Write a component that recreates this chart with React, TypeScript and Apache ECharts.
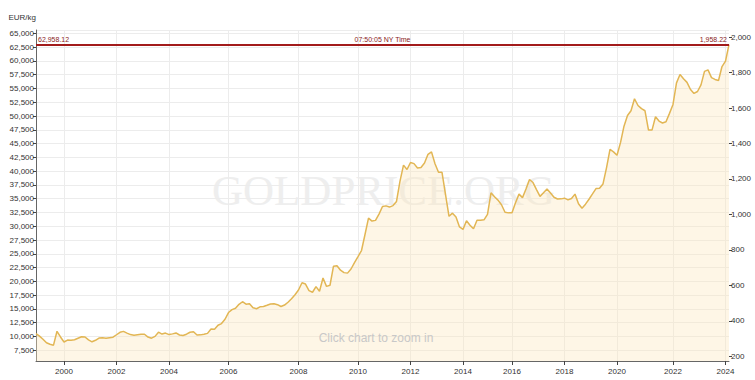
import React, { useEffect, useRef } from "react";
import * as echarts from "echarts";

// Gold price in EUR per kilogram, irregularly sampled (ordinal x axis)
const priceEURkg: number[] = [
  10530, 10070, 9500, 8865, 8590, 8430, 10950, 9920, 9010, 9355,
  9320, 9410, 9680, 9950, 9920, 9390, 9045, 9320, 9720, 9770,
  9680, 9790, 9880, 10320, 10770, 10930, 10625, 10350, 10230, 10320,
  10410, 10410, 9900, 9700, 10030, 10790, 10445, 10625, 10350, 10480,
  10645, 10280, 10190, 10425, 10770, 10860, 10280, 10300, 10410, 10570,
  11370, 11300, 12040, 12350, 13130, 14350, 14875, 15130, 15850, 16310,
  15870, 15960, 15220, 15040, 15380, 15440, 15670, 15910, 15960, 15780,
  15440, 15710, 16220, 16850, 17590, 18440, 19760, 19520, 18320, 18030,
  19050, 18215, 20610, 19100, 19300, 22750, 22840, 22030, 21590, 21500,
  22250, 23410, 24500, 25600, 28510, 31470, 30940, 31070, 32210, 33590,
  33700, 33480, 33750, 34500, 38190, 41090, 40300, 41560, 41360, 40580,
  40670, 41470, 43050, 43500, 41340, 39800, 39780, 35790, 31810, 32380,
  31700, 29870, 29430, 30990, 30200, 29540, 31105, 31105, 31160, 32140,
  36060, 35340, 34750, 33900, 32540, 32430, 32430, 34250, 35830, 35190,
  36750, 38480, 37930, 36660, 35420, 36080, 36770, 36020, 35260, 34950,
  34970, 35100, 34790, 35030, 35830, 34080, 33280, 34010, 34900, 35860,
  36840, 36880, 37680, 40600, 43940, 43500, 42890, 45170, 48150, 50080,
  50950, 53130, 51910, 51330, 50950, 47440, 47440, 49860, 49080, 48730,
  48950, 50480, 52090, 56010, 57520, 56760, 56100, 54800, 54090, 54440,
  55650, 58100, 58370, 56960, 56630, 56430, 58970, 59970, 62958.12,
];

// year labels and the sample index where each year starts
const yearLabels: string[] = ["2000", "2002", "2004", "2006", "2008", "2010", "2012", "2014", "2016", "2018", "2020", "2022", "2024"];
const yearStartIndex: number[] = [8, 23, 38, 55, 75, 92, 107, 122, 136, 151, 166, 182, 197];

const lastPriceKg = 62958.12;
const lastPriceOz = "1,958.22";
const lastTime = "07:50:05 NY Time";
const OZ_PER_KG = 32.1507466;

const kgMin = 5560;
const kgMax = 65600;
const kgStep = 2500;
const ozStep = 200;

const categories: string[] = priceEURkg.map((_, i) => {
  const k = yearStartIndex.indexOf(i);
  return k >= 0 ? yearLabels[k] : "#" + i;
});
const tickSet = new Set(yearStartIndex);

const FONT = "'Liberation Sans', Arial, sans-serif";

export default function App() {
  const ref = useRef<HTMLDivElement>(null);
  useEffect(() => {
    if (!ref.current) return;
    const chart = echarts.init(ref.current, undefined, { renderer: "svg" });
    const fmt = (v: number) => Math.round(v).toLocaleString("en-US");
    chart.setOption({
      animation: false,
      backgroundColor: "#ffffff",
      textStyle: { fontFamily: FONT },
      grid: { left: 36, right: 26, top: 30, bottom: 19, containLabel: false },
      xAxis: {
        type: "category",
        data: categories,
        boundaryGap: false,
        axisLine: { show: true, lineStyle: { color: "#666", width: 1 } },
        axisTick: { show: true, length: 4, interval: (i: number) => tickSet.has(i), lineStyle: { color: "#444" } },
        axisLabel: {
          interval: (i: number) => tickSet.has(i),
          fontSize: 8,
          color: "#333",
          margin: 6,
          fontFamily: FONT,
        },
        splitLine: { show: true, interval: (i: number) => tickSet.has(i), lineStyle: { color: "#ececec", width: 1 } },
      },
      yAxis: [
        {
          type: "value",
          position: "left",
          min: kgMin,
          max: kgMax,
          minInterval: kgStep,
          maxInterval: kgStep,
          axisLine: { show: true, lineStyle: { color: "#666" } },
          axisTick: { show: true, length: 3, lineStyle: { color: "#444" } },
          axisLabel: { fontSize: 8, color: "#333", margin: 2, showMinLabel: false, showMaxLabel: false, formatter: fmt, fontFamily: FONT },
          splitLine: { show: true, lineStyle: { color: "#ececec", width: 1 } },
        },
        {
          type: "value",
          position: "right",
          min: kgMin / OZ_PER_KG,
          max: kgMax / OZ_PER_KG,
          minInterval: ozStep,
          maxInterval: ozStep,
          axisLine: { show: false },
          axisTick: { show: true, length: 3, lineStyle: { color: "#444" } },
          axisLabel: { fontSize: 8, color: "#333", margin: 2, showMinLabel: false, showMaxLabel: false, formatter: fmt, fontFamily: FONT },
          splitLine: { show: false },
        },
      ],
      graphic: [
        {
          type: "text",
          left: 212,
          top: 169,
          z: 0,
          style: { text: "GOLDPRICE.ORG", font: "43px 'Liberation Serif', 'Times New Roman', serif", fill: "#eeeeee" },
        },
        {
          type: "text",
          x: 36,
          y: 17,
          z: 5,
          style: { text: "EUR/kg", font: "8px " + FONT, fill: "#333", textAlign: "right", textVerticalAlign: "middle" },
        },
        {
          type: "text",
          x: 376,
          y: 338,
          z: 5,
          style: { text: "Click chart to zoom in", font: "12px " + FONT, fill: "#c8c8c8", textAlign: "center", textVerticalAlign: "middle" },
        },
      ],
      series: [
        {
          type: "line",
          data: priceEURkg,
          yAxisIndex: 0,
          showSymbol: false,
          symbol: "none",
          lineStyle: { color: "#e2b654", width: 1.5 },
          areaStyle: { color: "rgba(252, 232, 190, 0.55)" },
          z: 3,
          markLine: {
            silent: true,
            symbol: "none",
            lineStyle: { color: "#a01818", width: 1.5, type: "solid" },
            label: { fontSize: 7, color: "#8a1c1c", distance: 2, fontFamily: FONT },
            data: [
              { yAxis: lastPriceKg, label: { position: "insideStartTop", formatter: () => lastPriceKg.toLocaleString("en-US", { minimumFractionDigits: 2 }) } },
              { yAxis: lastPriceKg, label: { position: "insideMiddleTop", formatter: () => lastTime } },
              { yAxis: lastPriceKg, label: { position: "insideEndTop", formatter: () => lastPriceOz } },
            ],
          },
        },
      ],
    });
    return () => chart.dispose();
  }, []);
  return <div ref={ref} style={{ position: "absolute", left: 0, top: 0, width: 755, height: 380, background: "#fff" }} />;
}
